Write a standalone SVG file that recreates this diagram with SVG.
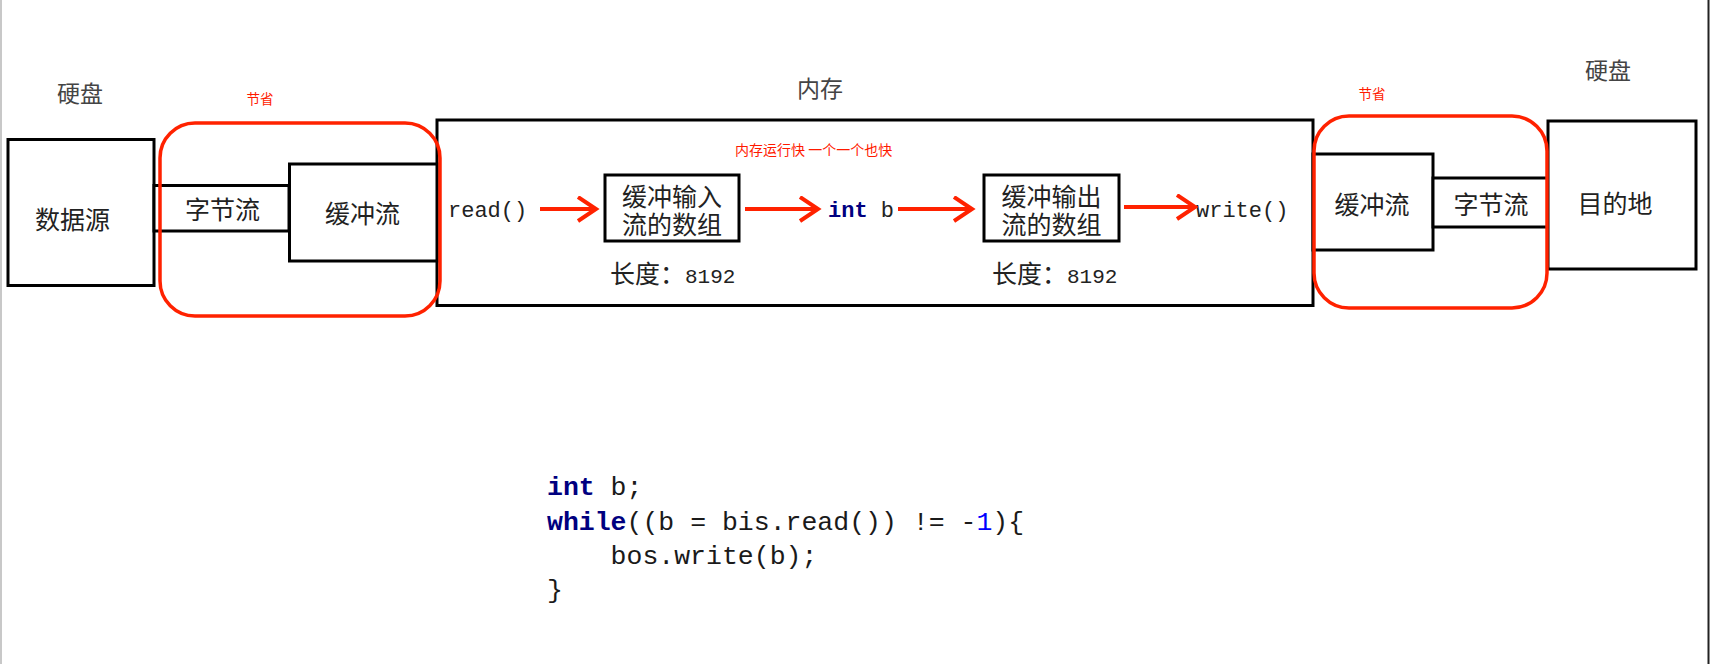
<svg xmlns="http://www.w3.org/2000/svg" width="1712" height="664" viewBox="0 0 1712 664">
<style>
.box{fill:#fff;stroke:#000;stroke-width:3}
.grp{fill:none;stroke:#ff2200;stroke-width:3.5}
.cjk{font-family:"Noto Sans CJK SC","Noto Sans",sans-serif;fill:#222;font-size:25px;text-anchor:middle;dominant-baseline:central}
.hdr{font-family:"Noto Sans CJK SC","Noto Sans",sans-serif;fill:#444;font-size:23px;text-anchor:middle;dominant-baseline:central}
.note{font-family:"Noto Sans CJK SC","Noto Sans",sans-serif;fill:#ff1a00;font-size:13.5px;dominant-baseline:central}
.len{font-family:"Noto Sans CJK SC","Noto Sans",sans-serif;fill:#222;font-size:25px}
.mono{font-family:"Liberation Mono","DejaVu Sans Mono",monospace;fill:#222;font-size:22px}
.code{font-family:"Liberation Mono","DejaVu Sans Mono",monospace;fill:#1a1a1a;font-size:26.5px}
.kw{fill:#000080;font-weight:bold}
.num{fill:#0000ff}
.arrow{stroke:#ff2200;stroke-width:4;fill:none;marker-end:url(#head)}
</style>
<defs>
<marker id="head" markerUnits="userSpaceOnUse" markerWidth="24" markerHeight="30" refX="19" refY="13" orient="auto">
<path d="M1,1 L19,13 L1,25" fill="none" stroke="#ff2200" stroke-width="4"/>
</marker>
</defs>
<rect width="1712" height="664" fill="#fff"/>
<line x1="1" y1="0" x2="1" y2="664" stroke="#c8c8c8" stroke-width="2"/>
<line x1="1708.5" y1="0" x2="1708.5" y2="664" stroke="#222" stroke-width="2"/>

<g id="hdr-left"><text class="hdr" x="80" y="92">硬盘</text></g>
<g id="hdr-mem"><text class="hdr" x="820" y="87">内存</text></g>
<g id="hdr-right"><text class="hdr" x="1608" y="69">硬盘</text></g>
<g id="note-left"><text class="note" x="260" y="97.5" text-anchor="middle">节省</text></g>
<g id="note-right"><text class="note" x="1372" y="92.5" text-anchor="middle">节省</text></g>

<g id="memory"><rect class="box" x="437" y="120" width="876" height="185.5"/></g>
<g id="note-mem"><text class="note" x="735" y="149" style="font-size:14px">内存运行快 一个一个也快</text></g>

<g id="source"><rect class="box" x="8" y="139.5" width="146" height="146"/><text class="cjk" x="72.5" y="218">数据源</text></g>
<g id="byte-in"><rect class="box" x="154" y="185.5" width="135" height="45.5"/><text class="cjk" x="222.5" y="208">字节流</text></g>
<g id="buf-in"><rect class="box" x="289.5" y="164" width="147.5" height="97"/><text class="cjk" x="362.5" y="212">缓冲流</text></g>

<g id="buf-out"><rect class="box" x="1313" y="154" width="120" height="96"/><text class="cjk" x="1372" y="203">缓冲流</text></g>
<g id="byte-out"><rect class="box" x="1433" y="178" width="115" height="49"/><text class="cjk" x="1491" y="203">字节流</text></g>
<g id="dest"><rect class="box" x="1548" y="121" width="148" height="148"/><text class="cjk" x="1615" y="202">目的地</text></g>

<g id="save-left"><rect class="grp" x="160" y="123" width="280" height="193" rx="35"/></g>
<g id="save-right"><rect class="grp" x="1314" y="116" width="233" height="192" rx="35"/></g>

<g id="read"><text class="mono" x="448" y="216.5">read()</text></g>
<g id="in-array"><rect class="box" x="605" y="175" width="134" height="66"/><text class="cjk"><tspan x="672" y="194.5">缓冲输入</tspan><tspan x="672" y="222.5">流的数组</tspan></text></g>
<g id="in-len"><text class="len" x="610" y="283">长度：<tspan class="mono" style="font-size:21px">8192</tspan></text></g>
<g id="int-b"><text class="mono" x="828" y="216.5"><tspan class="kw">int</tspan> b</text></g>
<g id="out-array"><rect class="box" x="984" y="175" width="135" height="66"/><text class="cjk"><tspan x="1051.5" y="194.5">缓冲输出</tspan><tspan x="1051.5" y="222.5">流的数组</tspan></text></g>
<g id="out-len"><text class="len" x="992" y="283">长度：<tspan class="mono" style="font-size:21px">8192</tspan></text></g>
<g id="write"><text class="mono" x="1196" y="216.5">write()</text></g>

<g id="connectors">
<path class="arrow" d="M540,209 H596"/>
<path class="arrow" d="M745,209 H818"/>
<path class="arrow" d="M898,209 H972"/>
<path class="arrow" d="M1124,207 H1195"/>
</g>

<g id="code">
<text class="code" x="547" y="495"><tspan class="kw">int</tspan> b;</text>
<text class="code" x="547" y="530" xml:space="preserve"><tspan class="kw">while</tspan>((b = bis.read()) != -<tspan class="num">1</tspan>){</text>
<text class="code" x="547" y="564" xml:space="preserve">    bos.write(b);</text>
<text class="code" x="547" y="598">}</text>
</g>
</svg>
